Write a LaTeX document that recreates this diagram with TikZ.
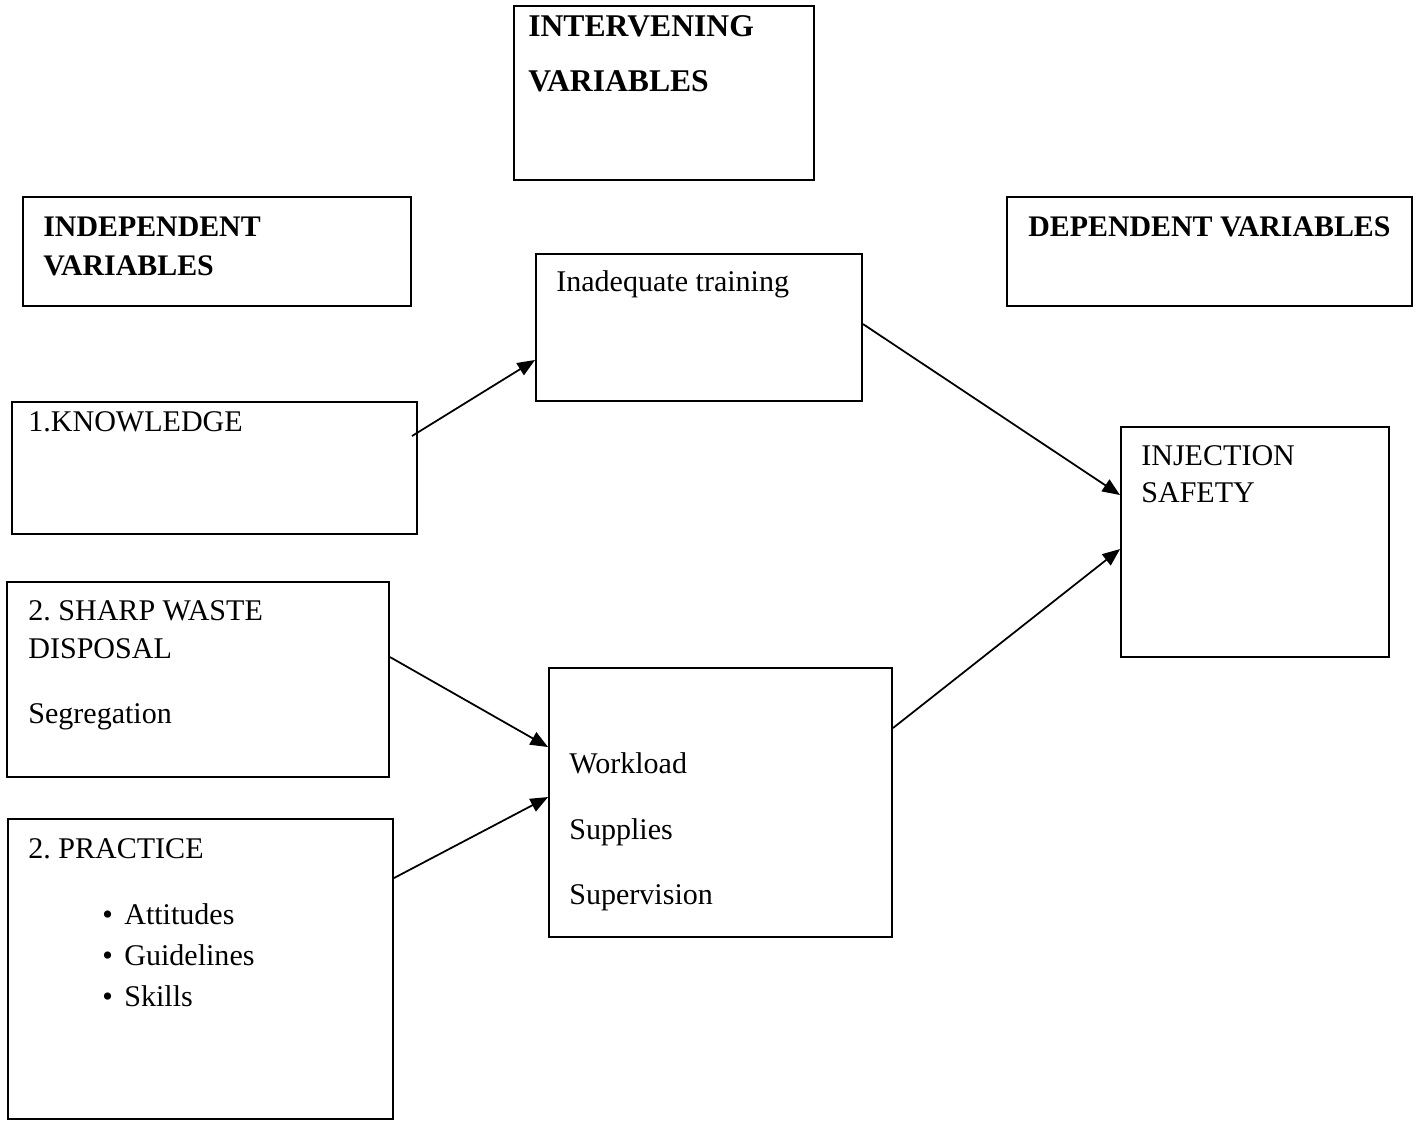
\documentclass[tikz,border=0pt]{standalone}
\usepackage{fontspec}
\setmainfont{Liberation Serif}
\usetikzlibrary{arrows.meta,fit,calc}
\frenchspacing
\begin{document}
\begin{tikzpicture}[x=0.02cm,y=-0.02cm,
  box/.style={draw, line width=1.1pt, inner sep=0pt, rectangle},
  txt/.style={anchor=base west, inner sep=0pt, font=\fontsize{17.1pt}{20pt}\selectfont},
  btxt/.style={txt, font=\fontsize{17pt}{20pt}\selectfont\bfseries},
  arr/.style={line width=1pt, -{Triangle[length=10pt,width=8pt]}}]
\useasboundingbox (0,0) rectangle (1420,1120);
% boxes
\node[box, fit={(514,6)(814,180)}] (interv) {};
\node[box, fit={(23,197)(411,306)}] (indep) {};
\node[box, fit={(1007,197)(1412,306)}] (dep) {};
\node[box, fit={(536,254)(862,401)}] (train) {};
\node[box, fit={(12,402)(417,534)}] (know) {};
\node[box, fit={(1121,427)(1389,657)}] (inj) {};
\node[box, fit={(7,582)(389,777)}] (sharp) {};
\node[box, fit={(549,668)(892,937)}] (work) {};
\node[box, fit={(8,819)(393,1119)}] (prac) {};
% texts
\node[btxt, font=\fontsize{18pt}{20pt}\selectfont\bfseries] (t1) at (528,36) {INTERVENING};
\node[btxt, font=\fontsize{18pt}{20pt}\selectfont\bfseries] (t2) at (528,91) {VARIABLES};
\node[btxt] (t3) at (43,236) {INDEPENDENT};
\node[btxt] (t4) at (43,275) {VARIABLES};
\node[btxt] (t5) at (1028,236) {DEPENDENT VARIABLES};
\node[txt] (t6) at (556,291) {Inadequate training};
\node[txt] (t7) at (28,431) {1.KNOWLEDGE};
\node[txt] (t8) at (1141,465) {INJECTION};
\node[txt] (t9) at (1141,502) {SAFETY};
\node[txt] (t10) at (28,620) {2. SHARP WASTE};
\node[txt] (t11) at (28,658) {DISPOSAL};
\node[txt] (t12) at (28,723) {Segregation};
\node[txt] (t13) at (569,773) {Workload};
\node[txt] (t14) at (569,839) {Supplies};
\node[txt] (t15) at (569,904) {Supervision};
\node[txt] (t16) at (28,858) {2. PRACTICE};
\node[txt] (b1) at (102,924) {•};
\node[txt] (t17) at (124,924) {Attitudes};
\node[txt] (b2) at (102,965) {•};
\node[txt] (t18) at (124,965) {Guidelines};
\node[txt] (b3) at (102,1006) {•};
\node[txt] (t19) at (124,1006) {Skills};
% arrows
\draw[arr] ($(know.north east)+(-6,35)$) -- ($(train.south west)+(0,-42)$);
\draw[arr] ($(train.north east)+(0,71)$) -- ($(inj.north west)+(0,69)$);
\draw[arr] ($(sharp.north east)+(0,76)$) -- ($(work.north west)+(0,80)$);
\draw[arr] ($(prac.north east)+(0,60)$) -- ($(work.north west)+(0,130)$);
\draw[arr] ($(work.north east)+(0,61)$) -- ($(inj.north west)+(0,123)$);
\end{tikzpicture}
\end{document}
